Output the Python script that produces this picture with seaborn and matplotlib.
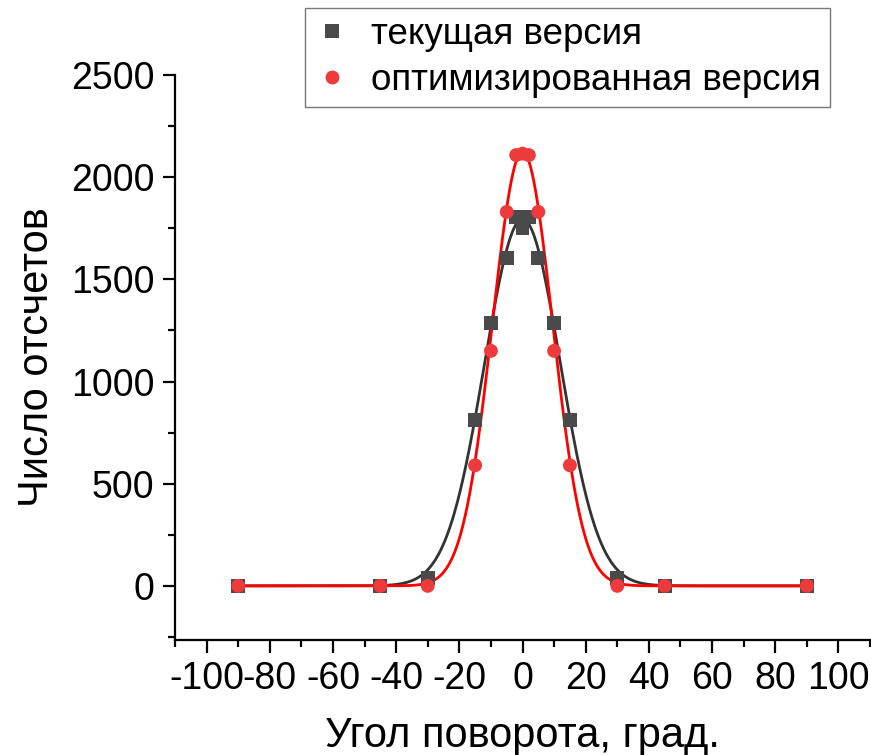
import numpy as np
import pandas as pd
import matplotlib
matplotlib.use("Agg")
import matplotlib.pyplot as plt
import seaborn as sns
from matplotlib.ticker import MultipleLocator

# ---- data ----
angle_cur = [-90, -45, -30, -15, -10, -5, -2, 0, 2, 5, 10, 15, 30, 45, 90]
counts_cur = [0, 0, 38, 813, 1285, 1603, 1805, 1752, 1805, 1603, 1285, 813, 38, 0, 0]
angle_opt = [-90, -45, -30, -15, -10, -5, -2, 0, 2, 5, 10, 15, 30, 45, 90]
counts_opt = [0, 0, 0, 590, 1150, 1830, 2108, 2115, 2108, 1830, 1150, 590, 0, 0, 0]

label_cur = "текущая версия"
label_opt = "оптимизированная версия"

# Gaussian fit parameters (amplitude, centre, sigma)
fit_cur = (1795, 0.0, 12.0)
fit_opt = (2125, 0.0, 9.5)

x_ticks = [-100, -80, -60, -40, -20, 0, 20, 40, 60, 80, 100]
y_ticks = [0, 500, 1000, 1500, 2000, 2500]

sns.set_theme(style="ticks")
plt.rcParams['font.family'] = ['Liberation Sans', 'DejaVu Sans']
plt.rcParams['axes.unicode_minus'] = False
plt.rcParams['text.color'] = 'black'
plt.rcParams['axes.labelcolor'] = 'black'

fig = plt.figure(figsize=(8.71, 7.55), dpi=100)
ax = fig.add_axes([0.2009, 0.1523, 0.7980, 0.7484])

pts = pd.concat([
    pd.DataFrame({"angle": angle_cur, "counts": counts_cur, "series": label_cur}),
    pd.DataFrame({"angle": angle_opt, "counts": counts_opt, "series": label_opt}),
], ignore_index=True)

xs = np.linspace(-90, 90, 1201)
def gauss(p):
    a, c, s = p
    return a * np.exp(-(xs - c) ** 2 / (2 * s ** 2))

curves = pd.concat([
    pd.DataFrame({"angle": xs, "counts": gauss(fit_cur), "series": label_cur}),
    pd.DataFrame({"angle": xs, "counts": gauss(fit_opt), "series": label_opt}),
], ignore_index=True)

sns.lineplot(data=curves, x="angle", y="counts", hue="series",
             palette={label_cur: "#333333", label_opt: "#ff0000"},
             linewidth=2.0, legend=False, ax=ax, zorder=2)

sns.scatterplot(data=pts, x="angle", y="counts", hue="series", style="series",
                markers={label_cur: "s", label_opt: "o"},
                palette={label_cur: "#4a4a4a", label_opt: "#ee3a3a"},
                s=100, linewidth=0, ax=ax, zorder=3)

ax.set_xlim(-110, 110)
ax.set_ylim(-265, 2500)
ax.set_xticks(x_ticks)
ax.set_yticks(y_ticks)
ax.xaxis.set_minor_locator(MultipleLocator(10))
ax.yaxis.set_minor_locator(MultipleLocator(250))
ax.tick_params(which="major", direction="out", length=9, width=1.6, labelsize=27, pad=6,
               color="black", labelcolor="black")
ax.tick_params(which="minor", direction="out", length=5, width=1.6, color="black")
for side in ["top", "right"]:
    ax.spines[side].set_visible(False)
for side in ["left", "bottom"]:
    ax.spines[side].set_linewidth(1.6)
    ax.spines[side].set_color("black")

ax.set_xlabel("Угол поворота, град.", fontsize=30, labelpad=14, color="black")
ax.set_ylabel("Число отсчетов", fontsize=30, labelpad=10, color="black")

handles, labels = ax.get_legend_handles_labels()
leg = fig.legend(handles, labels, loc="upper left", bbox_to_anchor=(0.350, 0.990),
                 fontsize=26.5, frameon=True, fancybox=False, edgecolor="#555555",
                 handletextpad=0.55, borderpad=0.25, labelspacing=0.3, markerscale=1.0,
                 handlelength=1.0, borderaxespad=0.0)
leg.get_frame().set_linewidth(1.0)
for t in leg.get_texts():
    t.set_color("black")
if ax.get_legend() is not None:
    ax.get_legend().remove()

fig.savefig("out.png", dpi=100)
